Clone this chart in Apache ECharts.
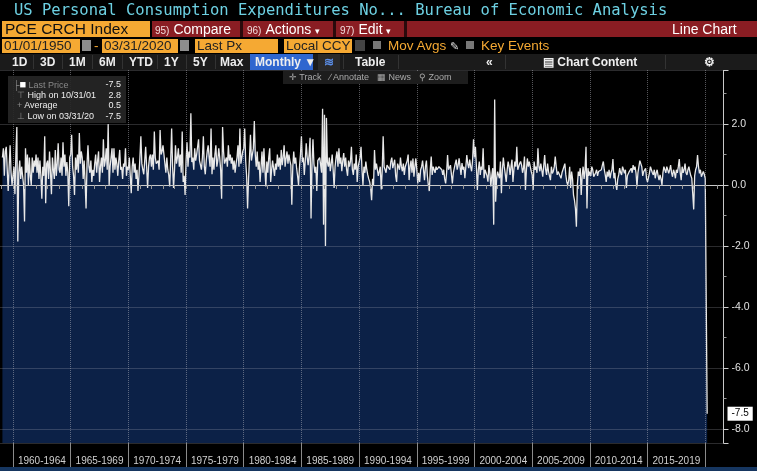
<!DOCTYPE html>
<html>
<head>
<meta charset="utf-8">
<script src="https://cdn.jsdelivr.net/npm/echarts@6.0.0/dist/echarts.min.js"></script>
<style>
  html, body { margin: 0; padding: 0; background: #000; }
  body { width: 757px; height: 471px; position: relative; overflow: hidden; font-family: "Liberation Sans", Arial, sans-serif; }
  #chart { position: absolute; left: 0; top: 0; width: 757px; height: 471px; }
  .abs { position: absolute; z-index: 2; white-space: nowrap; }
  .title { left: 14px; top: 0; height: 20px; line-height: 21px; font-family: "DejaVu Sans Mono", monospace; font-size: 15.5px; color: #6dd0e2; }
  .ticker { left: 2px; top: 21px; width: 148px; height: 16px; background: #f5a933; color: #111; font-size: 15.5px; line-height: 16px; padding-left: 3px; box-sizing: border-box; }
  .redbar { left: 152px; top: 21px; width: 605px; height: 16px; background: #8a1d23; }
  .btn { top: 21px; height: 16px; line-height: 16px; color: #fff; font-size: 14px; }
  .btn small { font-size: 10px; color: #f2dede; margin-right: 4px; }
  .sep { top: 21px; width: 3px; height: 16px; background: #2a0a0c; }
  .obox { top: 39px; height: 14px; background: #f5a933; color: #222; font-size: 13.5px; line-height: 14px; padding-left: 2px; box-sizing: border-box; }
  .ico { top: 40px; width: 9px; height: 11px; background: #8d8d8d; }
  .otext { top: 38px; color: #f5a933; font-size: 13.5px; line-height: 16px; }
  .chk { top: 41px; width: 8px; height: 8px; background: #777; }
  .bar4 { left: 0; top: 54px; width: 757px; height: 16px; background: #1b1b1b; }
  .b4 { top: 54px; height: 16px; line-height: 16px; color: #eee; font-size: 12px; font-weight: bold; }
  .s4 { top: 55px; width: 1px; height: 14px; background: #333; }
  .tool { left: 283px; top: 71px; width: 185px; height: 13px; background: #1d1d1d; color: #aaa; font-size: 9px; line-height: 13px; }
  .legend { left: 8px; top: 76px; width: 118px; height: 47px; background: rgba(38,38,38,0.92); color: #eee; font-size: 9px; }
  .legend div { position: absolute; left: 20px; height: 10px; line-height: 10px; }
  .legend span { position: absolute; right: 5px; height: 10px; line-height: 10px; }
  .bottom { left: 0; top: 467px; width: 757px; height: 4px; background: #163660; }
</style>
</head>
<body>
<div id="chart"></div>

<div class="abs title">US Personal Consumption Expenditures No... Bureau of Economic Analysis</div>
<div class="abs ticker">PCE CRCH Index</div>
<div class="abs redbar"></div>
<div class="abs btn" style="left:155px"><small>95)</small>Compare</div>
<div class="abs sep" style="left:240px"></div>
<div class="abs btn" style="left:247px"><small>96)</small>Actions <span style="font-size:9px">&#9662;</span></div>
<div class="abs sep" style="left:333px"></div>
<div class="abs btn" style="left:340px"><small>97)</small>Edit <span style="font-size:9px">&#9662;</span></div>
<div class="abs sep" style="left:404px"></div>
<div class="abs btn" style="left:672px">Line Chart</div>

<div class="abs obox" style="left:2px;width:78px">01/01/1950</div>
<div class="abs ico" style="left:82px"></div>
<div class="abs otext" style="left:94px">-</div>
<div class="abs obox" style="left:102px;width:76px">03/31/2020</div>
<div class="abs ico" style="left:180px"></div>
<div class="abs obox" style="left:195px;width:83px">Last Px</div>
<div class="abs obox" style="left:284px;width:68px">Local CCY</div>
<div class="abs ico" style="left:355px;width:10px;background:#444"></div>
<div class="abs chk" style="left:373px"></div>
<div class="abs otext" style="left:388px">Mov Avgs <span style="color:#ddd;font-size:11px">&#9998;</span></div>
<div class="abs chk" style="left:466px"></div>
<div class="abs otext" style="left:481px">Key Events</div>

<div class="abs bar4"></div>
<div class="abs b4" style="left:12px">1D</div>
<div class="abs s4" style="left:33px"></div>
<div class="abs b4" style="left:40px">3D</div>
<div class="abs s4" style="left:62px"></div>
<div class="abs b4" style="left:69px">1M</div>
<div class="abs s4" style="left:92px"></div>
<div class="abs b4" style="left:99px">6M</div>
<div class="abs s4" style="left:122px"></div>
<div class="abs b4" style="left:129px">YTD</div>
<div class="abs s4" style="left:157px"></div>
<div class="abs b4" style="left:164px">1Y</div>
<div class="abs s4" style="left:186px"></div>
<div class="abs b4" style="left:193px">5Y</div>
<div class="abs s4" style="left:215px"></div>
<div class="abs b4" style="left:220px">Max</div>
<div class="abs b4" style="left:250px;width:63px;background:#2f66cf;padding-left:5px;box-sizing:border-box">Monthly &#9660;</div>
<div class="abs b4" style="left:318px;width:22px;background:#2a2a2a;color:#5b8ee8;text-align:center">&#8779;</div>
<div class="abs s4" style="left:343px"></div>
<div class="abs b4" style="left:355px">Table</div>
<div class="abs s4" style="left:398px"></div>
<div class="abs b4" style="left:486px">&laquo;</div>
<div class="abs s4" style="left:505px"></div>
<div class="abs b4" style="left:543px">&#9636; Chart Content</div>
<div class="abs s4" style="left:665px"></div>
<div class="abs b4" style="left:704px">&#9881;</div>

<div class="abs tool"><span style="margin-left:6px">&#10011; Track</span><span style="margin-left:8px">&#8725; Annotate</span><span style="margin-left:8px">&#9638; News</span><span style="margin-left:8px">&#9906; Zoom</span></div>

<div class="abs legend">
  <div style="top:3px;left:5px;color:#888">&#9500;<b style="color:#fff;font-size:11px">&#9632;</b> Last Price</div><span style="top:3px">-7.5</span>
  <div style="top:14px;left:9px;color:#eee"><i style="color:#888;font-style:normal">&#8868;</i> High on 10/31/01</div><span style="top:14px">2.8</span>
  <div style="top:24px;left:9px;color:#eee"><i style="color:#888;font-style:normal">+</i> Average</div><span style="top:24px">0.5</span>
  <div style="top:35px;left:9px;color:#eee"><i style="color:#888;font-style:normal">&#8869;</i> Low on 03/31/20</div><span style="top:35px">-7.5</span>
</div>

<div class="abs bottom"></div>

<script>
const bandLabels = ["1960-1964", "1965-1969", "1970-1974", "1975-1979", "1980-1984", "1985-1989",
  "1990-1994", "1995-1999", "2000-2004", "2005-2009", "2010-2014", "2015-2019"];

// monthly % change, Feb 1959 onward
const pce1950s = [0.9, 1.2, 0.3, 1.1, 1.25, 0.5, -0.2, 0.6, 1.3, 0.4, 0.0];
const pce1960s = [
  0.3, 0.6, -0.3, 1.0, 1.9, -1.85, 0.4, 0.8, 0.2, 0.6, 0.3, 0.0,
  -1.2, 1.2, 0.4, 1.0, 0.0, 0.9, 0.3, 0.0, 0.9, 0.4, 0.8, 0.6,
  1.0, 0.4, 0.9, 0.2, 0.8, 0.3, -0.45, 0.6, 0.3, 1.6, -0.6, 0.7,
  0.8, 0.2, 1.1, 0.4, -0.3, 0.9, 0.5, 0.2, 1.15, 0.3, 0.7, 1.37,
  0.5, 0.4, 0.9, 0.3, 1.4, 0.6, 1.0, 0.3, 0.75, 0.4, -0.7, 0.9,
  1.0, 1.65, 0.6, 0.3, -0.33, 0.9, 0.5, 1.0, 0.4, 1.7, 0.7, 1.1,
  0.9, 0.2, 0.8, 0.1, -0.77, 0.7, 1.3, 0.6, 0.4, 0.8, 0.1, 0.5,
  0.3, 0.7, 1.0, 0.4, 0.8, 1.1, 0.1, 0.6, 0.9, 0.4, 1.5, 0.6,
  0.8, 1.2, 0.5, 2.0, 0.0, 0.6, 0.9, 1.2, 0.4, 1.2, 0.5, 0.9,
  0.7, 0.3, 0.8, 1.15, 0.5, 0.6, 0.2, 0.7, 0.6, 1.2, 0.3, 0.6
];
const pce1970s = [
  0.5, 0.9, 0.3, -0.27, 0.6, 0.9, 0.4, 0.7, 0.2, 0.5, -0.2, 0.3,
  0.9, 1.6, 0.7, 0.5, 0.35, 0.8, 1.25, 0.6, -0.1, 0.6, 0.9, 1.0,
  0.6, 1.0, 0.5, 1.75, 0.9, 0.7, 0.65, 0.8, 0.5, 1.8, 1.0, 1.1,
  1.3, 1.0, 0.7, 0.4, 0.9, 0.5, 0.33, -0.05, 0.8, 1.85, 0.6, -0.1,
  0.5, 1.3, 0.7, 0.9, 1.2, 0.6, 1.0, 0.4, 1.75, 0.1, 0.3, -0.33,
  0.8, 1.4, 0.6, 1.1, 0.9, 2.35, 0.75, 0.9, 0.5, 1.2, 0.8, 1.0,
  1.0, 1.5, 0.8, 0.75, 0.5, 0.9, 1.6, 0.6, 0.35, 0.8, 1.1, 1.3,
  0.9, 0.6, 1.85, 0.35, 0.9, 0.5, 1.0, 1.3, 0.6, 0.8, 1.2, 0.9,
  0.5, -0.45, 1.9, 1.1, 0.7, 0.75, 0.9, 0.6, 1.3, 0.8, 1.0, 0.7,
  0.9, 0.5, 0.8, 0.4, 0.7, 0.9, 1.3, 0.6, 1.85, 0.7, 0.65, 1.1
];
const pce1980s = [
  1.2, 1.85, 0.8, 0.3, -0.77, 0.2, 0.9, 1.65, 0.8, 1.0, 1.2, 2.1,
  1.0, 0.6, 1.1, 0.5, 0.77, 0.1, 0.6, 1.1, 0.4, 1.2, 0.5, -0.05,
  0.77, 0.4, 0.9, 1.2, 0.1, 0.5, 0.8, 0.77, 0.3, 0.7, 0.5, 1.0,
  0.6, 0.9, 0.5, 1.15, 0.65, 0.9, 1.3, 0.6, 0.87, 1.1, 0.7, 1.0,
  0.8, 0.65, -0.65, 0.6, 1.1, 0.7, 0.9, 0.55, 0.3, 0.0, 0.6, 1.0,
  1.6, 0.75, 0.9, 0.33, 0.8, 1.37, 0.9, 0.65, 1.0, 1.55, -1.1, 0.7,
  1.5, 0.7, 0.4, 0.6, -0.2, 0.8, 0.75, 0.9, 0.65, 0.4, 2.5, -1.3,
  2.3, -2.0, 2.2, 0.75, 0.6, 0.9, 0.45, 0.7, 1.0, 0.5, -0.1, 0.6,
  0.9, 1.1, 0.6, 1.2, 0.7, 0.9, 0.45, 0.8, 1.05, 0.6, 0.9, 0.5,
  0.3, 0.8, 0.6, 0.77, 1.25, 0.5, 0.33, 0.7, 0.5, 1.0, 0.1, 0.6
];
const pce1990s = [
  0.6, 0.9, 1.25, 0.5, 0.0, 0.6, 0.4, 0.77, 0.5, 0.33, 0.2, 0.1,
  -0.1, -0.5, 0.2, 0.0, 1.15, 0.5, 0.7, 0.65, 0.3, 0.33, 0.6, -0.15,
  0.45, 1.6, 0.6, 0.55, 0.4, 0.65, 0.7, 0.6, 0.5, 0.77, 0.9, 0.55,
  0.6, 0.83, 0.3, 0.1, 0.7, 0.6, 0.5, 0.9, 0.6, 0.45, 0.7, 0.33,
  0.6, 0.6, 0.8, 1.0, 0.16, 0.6, 0.8, 0.4, 0.87, 0.27, 0.6, 0.87,
  0.5, 0.05, 0.4, 0.1, 0.5, 0.6, 0.8, 0.5, 0.16, 0.6, 0.8, 0.3,
  0.0, -0.2, 0.5, 0.93, 0.33, 0.6, 0.5, 0.4, 0.6, 0.5, 0.5, 0.6,
  0.55, 0.6, 0.5, 0.33, 0.5, 0.2, 0.05, 0.4, 0.98, 0.5, 0.5, 0.65,
  0.65, 0.05, 0.4, 0.55, 0.7, 0.83, 0.5, 0.65, 0.87, 0.6, 0.33, 0.72,
  0.5, 0.6, 0.22, 0.6, 0.98, 0.7, 0.55, 0.83, 0.6, 0.45, 0.8, 1.5
];
const pce2000s = [
  0.9, 1.25, 0.6, -0.16, 0.5, 0.77, 0.33, 0.6, 0.5, 1.2, 0.22, 0.5,
  0.55, 0.3, 0.11, 0.65, 0.4, -0.05, 0.3, 0.55, -1.3, 2.8, -0.55, 0.2,
  0.44, 0.5, 0.22, 0.77, -0.27, 0.5, 0.9, 0.6, 0.55, 0.1, 0.5, 0.77,
  0.6, 0.33, 0.6, 0.83, 0.1, 0.5, 0.77, 0.6, 1.25, 0.5, 0.45, 0.7,
  0.77, 0.65, 0.4, 0.55, 0.93, -0.16, 0.5, 0.87, 0.6, 0.77, 0.6, 0.45,
  0.33, -0.16, 0.77, 0.5, 0.6, 0.4, 1.2, 0.6, 0.45, 0.7, 0.65, 0.27,
  0.27, 0.98, 0.5, 0.33, 0.7, 0.44, 0.5, 0.16, 0.6, 0.38, 0.45, 0.6,
  0.93, 0.6, 0.33, 0.44, 0.5, 0.38, 0.22, 0.4, 0.5, 0.6, 0.7, 0.33,
  0.1, 0.0, 0.16, 0.6, -0.1, 0.44, 0.2, -0.33, -0.5, -0.77, -1.37, 0.0,
  0.44, 0.3, 0.55, -0.33, 0.3, 0.6, 0.2, 0.5, 1.25, -0.77, 0.55, 0.3
];
const pce2010s = [
  0.44, 0.3, 0.6, 0.5, 0.27, 0.33, 0.4, 0.5, 0.3, 0.44, 0.5, 0.38,
  0.5, 0.65, 0.77, 0.5, 0.33, 0.1, 0.44, 0.27, 0.5, 0.22, 0.4, 0.5,
  0.85, 0.22, 0.4, 0.0, -0.16, 0.2, 0.33, 0.55, 0.4, 0.33, 0.6, 0.5,
  0.38, 0.5, -0.1, 0.3, 0.27, 0.44, 0.5, 0.55, 0.4, 0.65, 0.5, 0.6,
  0.4, -0.05, 0.4, 0.6, 0.8, 0.7, 0.6, 0.3, 0.44, 0.5, 0.55, 0.2,
  0.1, 0.05, 0.4, 0.6, 0.5, 0.4, 0.33, 0.5, 0.22, 0.4, 0.5, 0.3,
  0.16, 0.33, 0.2, 0.0, 0.4, 0.6, 0.55, 0.4, 0.6, 0.5, 0.38, 0.5,
  0.65, 0.4, 0.27, 0.5, 0.4, 0.22, 0.5, 0.4, 0.6, 0.85, 0.4, 0.16,
  0.6, 0.4, 0.5, 0.7, 0.4, 0.33, 0.5, 0.6, 0.44, 0.3, 0.22, 0.2,
  -0.8, 0.3, 0.5, 0.6, 0.98, 0.6, 0.38, 0.5, 0.27, 0.3, 0.44, 0.35
];
const pce2020s = [0.22, 0.27, -7.5];

const values = [].concat(pce1950s, pce1960s, pce1970s, pce1980s, pce1990s, pce2000s, pce2010s, pce2020s);

// month categories Dec 1958 .. Aug 2021 (axis runs past the last point)
const months = [];
for (let y = 1958; y <= 2021; y++) {
  for (let m = 1; m <= 12; m++) {
    if (y === 1958 && m < 12) continue;
    if (y === 2021 && m > 8) continue;
    months.push(y + "-" + String(m).padStart(2, "0"));
  }
}
const firstIdx = months.indexOf("1959-02");
const seriesData = values.map((v, i) => [firstIdx + i, v]);
const lastValue = values[values.length - 1];

const yearOf = (v) => +v.slice(0, 4);
const isJan = (i, v) => v.endsWith("-01");
const isBandEdge = (i, v) => v.endsWith("-01") && yearOf(v) % 5 === 0;
const isBandMid = (i, v) => v.endsWith("-07") && yearOf(v) % 5 === 2 && yearOf(v) >= 1962 && yearOf(v) <= 2017;

const chart = echarts.init(document.getElementById("chart"));

const option = {
  backgroundColor: "#000",
  animation: false,
  grid: { left: 0.5, right: 33.5, top: 70, bottom: 28 },
  xAxis: [
    {
      type: "category",
      data: months,
      boundaryGap: false,
      z: 5,
      axisLine: { show: true, lineStyle: { color: "#c8c8c8", width: 1 } },
      axisTick: { show: true, interval: isJan, length: 4, lineStyle: { color: "#999" } },
      axisLabel: { show: false },
      splitLine: { show: false },
    },
    {
      type: "category",
      data: months,
      boundaryGap: false,
      position: "bottom",
      z: 5,
      axisLine: { show: false },
      axisTick: { show: true, interval: isBandEdge, length: 24, lineStyle: { color: "#8a8a8a" } },
      axisLabel: {
        show: true,
        interval: isBandMid,
        formatter: (v) => bandLabels[(yearOf(v) - 1962) / 5],
        color: "#d0d0d0",
        fontSize: 10,
        margin: 13,
        fontFamily: "Liberation Sans",
      },
      splitLine: {
        show: true,
        interval: isBandEdge,
        lineStyle: { color: "rgba(190,190,200,0.45)", type: "dotted", width: 1 },
      },
    },
  ],
  yAxis: {
    type: "value",
    position: "right",
    min: -8.46,
    max: 3.77,
    splitNumber: 6,
    z: 5,
    axisLine: { show: true, lineStyle: { color: "#c8c8c8", width: 1 } },
    axisTick: { show: true, length: 5, lineStyle: { color: "#ccc" } },
    minorTick: { show: true, splitNumber: 2, length: 3, lineStyle: { color: "#999" } },
    axisLabel: {
      color: "#e0e0e0",
      fontSize: 10.5,
      margin: 8,
      showMinLabel: false,
      showMaxLabel: false,
      fontFamily: "Liberation Sans",
      formatter: (v) => v.toFixed(1),
    },
    splitLine: { show: true, lineStyle: { color: "rgba(190,190,200,0.45)", type: "dotted", width: 1 } },
    axisPointer: {
      show: true,
      value: lastValue,
      status: "show",
      triggerTooltip: false,
      lineStyle: { opacity: 0 },
      label: {
        show: true,
        backgroundColor: "#fff",
        color: "#000",
        fontSize: 10,
        padding: [2, 4],
        margin: 4,
        borderRadius: 0,
        formatter: (p) => Number(p.value).toFixed(1),
      },
    },
  },
  series: [
    {
      type: "line",
      data: seriesData,
      xAxisIndex: 0,
      showSymbol: false,
      z: 2,
      lineStyle: { color: "#e8e8e8", width: 1.3 },
      areaStyle: { color: "#0c2147", opacity: 1, origin: "start" },
    },
  ],
};

chart.setOption(option);
</script>
</body>
</html>
